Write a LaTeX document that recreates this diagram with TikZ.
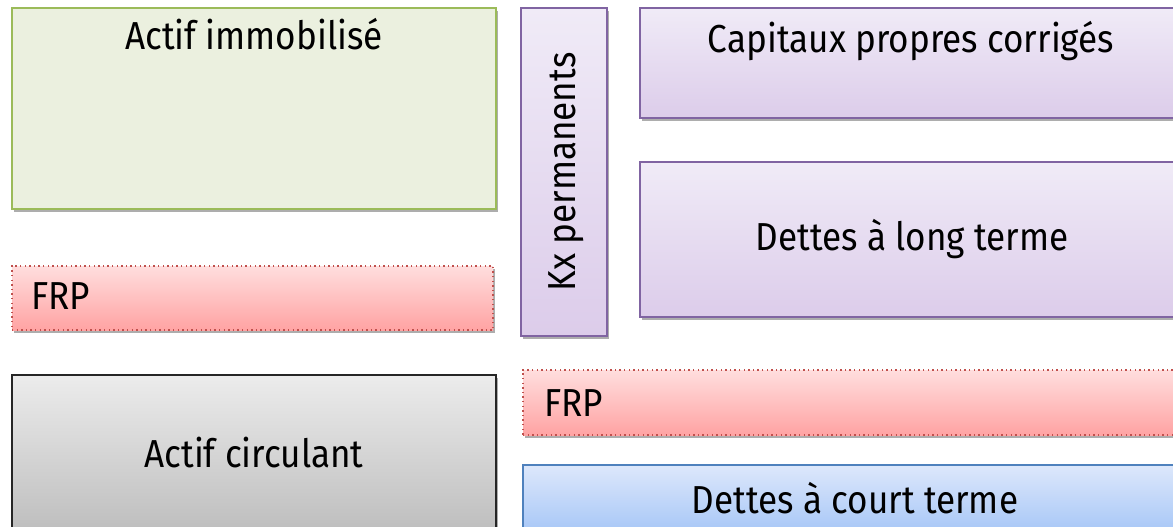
\documentclass[tikz,border=0pt]{standalone}
\usepackage{fontspec}
\setmainfont{Fira Sans}
\newfontfamily\condf[FakeStretch=0.9]{Fira Sans}
\usetikzlibrary{shadows}
\definecolor{grnfill}{HTML}{EBF0DF}
\definecolor{grnline}{HTML}{9BBB59}
\definecolor{purtop}{HTML}{F0EBF7}
\definecolor{purbot}{HTML}{DCCCEA}
\definecolor{purline}{HTML}{8064A2}
\definecolor{pinktop}{HTML}{FFDEDE}
\definecolor{pinkbot}{HTML}{FFA3A3}
\definecolor{redline}{HTML}{C0504D}
\definecolor{graytop}{HTML}{ECECEC}
\definecolor{graybot}{HTML}{BEBEBE}
\definecolor{bluetop}{HTML}{DDE8FB}
\definecolor{bluebot}{HTML}{A8C7F7}
\definecolor{blueline}{HTML}{4F81BD}
\begin{document}
\begin{tikzpicture}[x=1pt,y=-1pt,
  box/.style={rectangle, inner sep=0pt, outer sep=0pt, line width=1.6pt, anchor=north west,
    drop shadow={shadow xshift=1.5pt, shadow yshift=-3pt, opacity=0.4, fill=black!80}},
  greenbox/.style={box, draw=grnline, fill=grnfill},
  purplebox/.style={box, draw=purline, top color=purtop, bottom color=purbot},
  frpbox/.style={box, draw=redline, line width=1.4pt, dash pattern=on 1.4pt off 3.2pt, top color=pinktop, bottom color=pinkbot},
  graybox/.style={box, draw=black!85, top color=graytop, bottom color=graybot},
  bluebox/.style={box, draw=blueline, top color=bluetop, bottom color=bluebot},
  lbl/.style={inner sep=0pt, font=\condf\fontsize{39}{44}\selectfont}
]
\useasboundingbox (0,0) rectangle (1173,527);
\clip (0,0) rectangle (1173,527);
\fill[white] (0,0) rectangle (1173,527);

% left column
\node[greenbox, minimum width=484pt, minimum height=201pt] (ai) at (12,8) {};
\node[lbl, anchor=base] (ait) at (254,50) {Actif immobilisé};

\node[frpbox, minimum width=481pt, minimum height=64pt] (frpl) at (12,266) {};
\node[lbl, anchor=base west] (frplt) at (31,309) {FRP};

\node[graybox, minimum width=484pt, minimum height=156pt] (ac) at (12,375) {};
\node[lbl] (act) at (ac.center) {Actif circulant};

% right column
\node[purplebox, minimum width=86pt, minimum height=328pt] (kx) at (521,8) {};
\node[lbl, rotate=90] (kxt) at (566,172) {Kx permanents};

\node[purplebox, minimum width=542pt, minimum height=110pt] (cp) at (640,8) {};
\node[lbl, anchor=base] (cpt) at (911,53) {Capitaux propres corrigés};

\node[purplebox, minimum width=544pt, minimum height=155pt] (dlt) at (640,162) {};
\node[lbl] (dltt) at (dlt.center) {Dettes à long terme};

\node[frpbox, minimum width=665pt, minimum height=65pt] (frpr) at (523,370) {};
\node[lbl, anchor=base west] (frprt) at (544,416) {FRP};

\node[bluebox, minimum width=664pt, minimum height=66pt] (dct) at (523,465) {};
\node[lbl] (dctt) at (dct.center) {Dettes à court terme};
\end{tikzpicture}
\end{document}
